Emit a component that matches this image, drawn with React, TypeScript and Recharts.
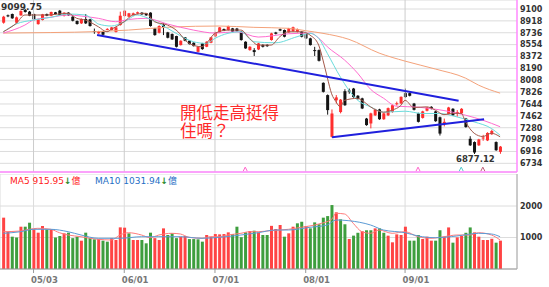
import {
    ComposedChart,
    Bar,
    Line,
    XAxis,
    YAxis,
    CartesianGrid,
    ReferenceLine,
    ReferenceDot,
    Cell
} from 'recharts';

// candles, one per trading day (index 0..115)
const opens = [
    8890, 9003, 9023, 8890, 9003, 9085, 9059, 9023, 8868, 8931,
    9023, 8997, 9049, 9074, 8997, 9044, 8982, 8916, 8880, 8946,
    8942, 8762, 8727, 8752, 8785, 8777, 8747, 8854, 8992, 8982,
    9008, 9030, 9044, 9034, 9044, 8803, 8736, 8860, 8742, 8716,
    8685, 8547, 8665, 8613, 8583, 8444, 8572, 8521, 8583, 8680,
    8742, 8793, 8777, 8803, 8800, 8752, 8598, 8470, 8470, 8480,
    8550, 8550, 8624, 8740, 8790, 8778, 8742, 8760, 8750, 8752,
    8720, 8650, 8470, 8470, 7968, 7780, 7140, 7700, 7520, 7840,
    7850, 7880, 7770, 7730, 7420, 7345, 7470, 7560, 7410, 7470,
    7520, 7645, 7652, 7810, 7810, 7650, 7500, 7430, 7540, 7600,
    7530, 7440, 7350, 7490, 7570, 7500, 7500, 7420, 7110, 7060,
    7010, 7120, 7085, 7180, 7060, 6910
];
const highs = [
    8995, 9015, 9030, 8985, 9080, 9099.75, 9070, 9030, 8950, 9025,
    9030, 9060, 9055, 9085, 9050, 9050, 8990, 8925, 8955, 9023,
    8950, 8800, 8765, 8760, 8805, 8825, 8825, 9059, 9080, 9040,
    9045, 9060, 9050, 9040, 9050, 8810, 8850, 8880, 8750, 8725,
    8690, 8620, 8670, 8620, 8590, 8530, 8580, 8605, 8670, 8750,
    8825, 8800, 8845, 8810, 8810, 8760, 8605, 8530, 8500, 8580,
    8560, 8560, 8735, 8750, 8800, 8785, 8810, 8830, 8800, 8760,
    8730, 8660, 8520, 8480, 7975, 7790, 7560, 7780, 7720, 7870,
    7880, 7890, 7780, 7740, 7430, 7510, 7570, 7570, 7510, 7590,
    7635, 7680, 7760, 7880, 7820, 7660, 7510, 7540, 7600, 7610,
    7540, 7450, 7420, 7600, 7580, 7550, 7580, 7430, 7150, 7070,
    7110, 7170, 7210, 7250, 7070, 7000
];
const lows = [
    8875, 8975, 8950, 8880, 8995, 9045, 8990, 8925, 8860, 8925,
    8990, 8990, 9015, 9000, 8985, 8995, 8910, 8860, 8870, 8870,
    8830, 8720, 8715, 8695, 8775, 8770, 8740, 8845, 8985, 8975,
    9000, 9020, 9010, 8995, 8830, 8690, 8725, 8700, 8650, 8625,
    8510, 8540, 8605, 8555, 8525, 8435, 8475, 8515, 8575, 8670,
    8735, 8760, 8770, 8745, 8750, 8615, 8490, 8460, 8380, 8470,
    8510, 8520, 8615, 8710, 8760, 8665, 8735, 8750, 8740, 8665,
    8640, 8540, 8380, 8295, 7820, 7480, 7130, 7650, 7500, 7615,
    7800, 7740, 7710, 7565, 7310, 7270, 7460, 7400, 7400, 7460,
    7510, 7620, 7640, 7740, 7760, 7545, 7360, 7420, 7530, 7560,
    7370, 7160, 7300, 7480, 7460, 7450, 7490, 7280, 7000, 6877.12,
    7000, 7080, 7075, 7170, 6925, 6880
];
const closes = [
    8982, 8988, 8957, 8972, 9069, 9054, 8997, 8942, 8942, 9018,
    8997, 9054, 9023, 9008, 9044, 9003, 8920, 8870, 8946, 8880,
    8839, 8752, 8752, 8705, 8795, 8818, 8818, 8997, 9074, 9034,
    9034, 9050, 9018, 9003, 8839, 8700, 8839, 8820, 8659, 8634,
    8521, 8613, 8613, 8562, 8531, 8521, 8485, 8598, 8665, 8742,
    8818, 8767, 8839, 8752, 8760, 8624, 8496, 8521, 8440, 8572,
    8521, 8530, 8726, 8720, 8770, 8675, 8803, 8820, 8790, 8675,
    8650, 8547, 8460, 8306, 7830, 7550, 7498, 7745, 7710, 7625,
    7840, 7750, 7720, 7575, 7320, 7500, 7560, 7410, 7500, 7580,
    7625, 7655, 7753, 7750, 7770, 7555, 7370, 7530, 7590, 7570,
    7380, 7190, 7370, 7590, 7470, 7520, 7570, 7290, 7010, 6900,
    7100, 7130, 7200, 7230, 6935, 6990
];

// volume (億) and its colour flag (1 = up day)
const volumes = [
    1630, 1180, 1026, 1000, 1343, 1343, 1470, 1259, 1153, 1365,
    1259, 1259, 1000, 1047, 1132, 1153, 980, 1026, 899, 1153,
    980, 942, 950, 900, 868, 980, 920, 1322, 1312, 1132,
    920, 920, 920, 815, 1153, 980, 920, 1290, 1080, 1132,
    980, 1026, 1047, 950, 950, 942, 868, 1080, 1026, 1110,
    1100, 1110, 1163, 1110, 1343, 1010, 1163, 1205, 1216, 1163,
    1080, 1080, 1370, 1270, 1397, 1026, 1132, 1343, 1450, 1500,
    1365, 1290, 1480, 1420, 1630, 1680, 2030, 1800, 1577, 1420,
    952, 1060, 1150, 1200, 1230, 1230, 1290, 1290, 1150, 1058,
    847, 1100, 1080, 1343, 900, 900, 1080, 952, 1026, 900,
    900, 1230, 1026, 1320, 836, 1005, 1047, 1150, 1320, 1163,
    1026, 920, 920, 960, 836, 900
];
const volUp = [
    1, 1, 0, 0, 1, 0, 0, 1, 1, 1,
    0, 1, 0, 0, 1, 0, 0, 0, 1, 0,
    0, 0, 1, 0, 0, 1, 1, 1, 1, 0,
    1, 1, 0, 0, 0, 1, 1, 1, 0, 0,
    0, 1, 1, 0, 0, 0, 0, 1, 1, 1,
    1, 1, 1, 0, 0, 0, 0, 1, 0, 1,
    0, 0, 1, 1, 1, 0, 1, 1, 0, 0,
    1, 0, 0, 0, 0, 0, 0, 1, 0, 0,
    1, 0, 0, 1, 0, 0, 1, 0, 0, 1,
    1, 1, 1, 1, 0, 0, 0, 1, 1, 1,
    0, 0, 1, 1, 0, 1, 1, 0, 0, 1,
    1, 1, 1, 1, 0, 1
];

// moving averages: [day index, value]
const ma5Pts = [
    [0, 8751], [3, 8880], [5, 9008], [8, 9008], [10, 9008], [15, 9034], [17, 8957], [19, 8931],
    [22, 8828], [24, 8751], [25, 8788], [28, 8905], [30, 9008], [33, 9034], [35, 8905], [38, 8854],
    [40, 8777], [43, 8573], [46, 8521], [47, 8573], [49, 8727], [52, 8777], [55, 8777], [57, 8650],
    [59, 8547], [62, 8547], [64, 8675], [66, 8751], [69, 8751], [71, 8700], [73, 8547], [74, 8317],
    [75, 8050], [76, 7800], [77, 7680], [78, 7600], [79, 7700], [82, 7730], [83, 7700], [85, 7600],
    [88, 7518], [90, 7550], [92, 7620], [93, 7700], [95, 7590], [98, 7600], [100, 7550], [102, 7480],
    [104, 7500], [106, 7500], [107, 7370], [109, 7195], [111, 7145], [113, 7195], [115, 7140]
];
const ma10Pts = [
    [0, 8751], [3, 8870], [7, 8931], [11, 8973], [15, 9023], [19, 9008], [21, 8920], [22, 8870],
    [25, 8839], [28, 8905], [31, 9008], [33, 8973], [36, 8880], [40, 8727], [44, 8598], [47, 8573],
    [49, 8650], [52, 8727], [55, 8751], [58, 8598], [63, 8582], [68, 8675], [71, 8727], [73, 8650],
    [75, 8420], [78, 8060], [80, 7856], [82, 7702], [85, 7600], [88, 7518], [93, 7533], [97, 7498],
    [101, 7498], [105, 7446], [109, 7369], [113, 7268], [115, 7165]
];
const ma20Pts = [
    [0, 8731], [5, 8854], [7, 8931], [11, 8973], [15, 9008], [18, 8992], [22, 8957], [26, 8905],
    [29, 8939], [33, 8957], [38, 8870], [44, 8777], [49, 8731], [54, 8751], [59, 8670], [66, 8720],
    [71, 8731], [73, 8654], [75, 8521], [79, 8317], [82, 8117], [85, 7870], [88, 7733], [91, 7610],
    [96, 7595], [100, 7564], [104, 7518], [107, 7472], [111, 7395], [115, 7295]
];
const ma60Pts = [
    [0, 8731], [11, 8739], [22, 8754], [29, 8777], [39, 8824], [50, 8839], [58, 8819], [66, 8804],
    [70, 8767], [74, 8727], [80, 8635], [87, 8424], [93, 8301], [100, 8180], [107, 8040], [110, 7933],
    [115, 7810]
];
const volMa5Pts = [
    [0, 1184], [4, 1206], [6, 1260], [8, 1292], [11, 1260], [13, 1152], [15, 1079], [18, 1025],
    [20, 975], [22, 943], [25, 921], [27, 1079], [29, 1152], [32, 1079], [34, 994], [36, 1079],
    [39, 1133], [41, 1111], [43, 1006], [46, 975], [48, 1025], [50, 1025], [52, 1079], [55, 1133],
    [57, 1184], [59, 1184], [62, 1220], [66, 1260], [69, 1324], [73, 1429], [76, 1578], [77, 1768],
    [79, 1746], [81, 1451], [83, 1184], [85, 1133], [87, 1238], [90, 1133], [93, 1184], [96, 1025],
    [99, 975], [102, 1025], [105, 1079], [108, 1079], [110, 1152], [113, 1079], [115, 921]
];
const volMa10Pts = [
    [0, 1133], [4, 1184], [7, 1260], [11, 1260], [15, 1184], [18, 1079], [22, 975], [27, 975],
    [32, 1025], [36, 1025], [41, 1025], [46, 975], [50, 1006], [55, 1079], [59, 1152], [63, 1238],
    [66, 1238], [71, 1324], [75, 1397], [77, 1556], [80, 1533], [85, 1397], [88, 1238], [93, 1152],
    [96, 1048], [100, 994], [105, 1048], [110, 1133], [113, 1111], [115, 1025]
];

// hand-drawn trend lines: [day index, price]
const upperTrend = [[21.7, 8701], [105.4, 7694]];
const lowerTrend = [[76.1, 7133], [111.3, 7411]];

// small event markers under the candles
const eventDays = [56, 96, 106, 111];
const eventColors = ['#ff66cc', '#ff66cc', '#55cccc', '#c0607a'];

const priceTicks = [6734, 6916, 7098, 7280, 7462, 7644, 7826, 8008, 8190, 8372, 8554, 8736, 8918, 9100];
const volumeTicks = [1000, 2000];
const monthTicks = [7, 28, 49, 70, 93];
const monthLabels = ['05/03', '06/01', '07/01', '08/01', '09/01'];

const X_DOMAIN = [-0.764, 118.91];
const PRICE_DOMAIN = [6601, 9238];
const VOL_DOMAIN = [0, 3016];
const PINK = '#ff88ff';
const AXIS_FONT = '"DejaVu Sans", Verdana, sans-serif';
const CJK_FONT = '"Noto Sans CJK TC", sans-serif';

const toSeries = (pts: number[][]) => {
    const arr: (number | null)[] = opens.map(() => null);
    pts.forEach(([i, v]) => { arr[i] = v; });
    return arr;
};
const ma5 = toSeries(ma5Pts);
const ma10 = toSeries(ma10Pts);
const ma20 = toSeries(ma20Pts);
const ma60 = toSeries(ma60Pts);
const volMa5 = toSeries(volMa5Pts);
const volMa10 = toSeries(volMa10Pts);

const data = opens.map((o, i) => ({
    i,
    open: o,
    high: highs[i],
    low: lows[i],
    close: closes[i],
    range: [lows[i], highs[i]],
    vol: volumes[i],
    ma5: ma5[i],
    ma10: ma10[i],
    ma20: ma20[i],
    ma60: ma60[i],
    volMa5: volMa5[i],
    volMa10: volMa10[i],
}));

const Candle = (props: any) => {
    const { x, y, width, height, payload } = props;
    if (!payload) return null;
    const { open, close, high, low } = payload;
    const top = Math.min(y, y + height);
    const span = Math.abs(height);
    const py = (v: number) => (high === low ? top : top + ((high - v) / (high - low)) * span);
    const up = close >= open;
    const color = up ? '#ff2e2e' : '#141414';
    const cx = x + width / 2;
    const bodyTop = py(Math.max(open, close));
    const bodyH = Math.max(1, py(Math.min(open, close)) - bodyTop);
    return (
        <g>
            <line x1={cx} x2={cx} y1={top} y2={top + span} stroke={color} strokeWidth={1} />
            <rect x={x} y={bodyTop} width={width} height={bodyH} fill={color} />
        </g>
    );
};

const PriceTick = ({ x, y, payload }: any) => (
    <text x={x} y={y} dy="0.35em" textAnchor="start" fontFamily={AXIS_FONT} fontWeight="bold" fontSize={8} fill="#333">
        {payload.value}
    </text>
);

const MonthTick = ({ x, y, payload }: any) => {
    const idx = monthTicks.indexOf(payload.value);
    return (
        <text x={x - 2.5} y={y} dy={8} textAnchor="start" fontFamily={AXIS_FONT} fontWeight="bold" fontSize={8.5} fill="#777">
            {monthLabels[idx]}
        </text>
    );
};

const EventMark = ({ cx, cy, fill }: any) => (
    <path d={`M${cx - 2},${cy + 2} L${cx},${cy - 2} L${cx + 2},${cy + 2}`} stroke={fill} fill="none" strokeWidth={1} />
);

const lineProps = {
    type: 'monotone' as const,
    strokeWidth: 1,
    dot: false,
    activeDot: false,
    connectNulls: true,
    isAnimationActive: false,
};

export default function App() {
    return (
        <div style={{ position: 'absolute', left: 0, top: 0, width: 549, height: 287, background: '#fff' }}>
            <div style={{ position: 'absolute', left: 0, top: 0 }}>
                <ComposedChart width={549} height={174} data={data} margin={{ top: 0, right: 0, left: 0, bottom: 0 }}>
                    <CartesianGrid vertical={false} stroke="#dcdcdc" />
                    <XAxis
                        dataKey="i"
                        type="number"
                        domain={X_DOMAIN}
                        allowDataOverflow
                        height={2}
                        tick={false}
                        tickLine={false}
                        axisLine={{ stroke: PINK, strokeWidth: 1.5 }}
                    />
                    <YAxis
                        orientation="right"
                        width={32}
                        domain={PRICE_DOMAIN}
                        allowDataOverflow
                        ticks={priceTicks}
                        interval={0}
                        tickSize={0}
                        tickMargin={3}
                        tickLine={false}
                        axisLine={{ stroke: PINK, strokeWidth: 1.5 }}
                        tick={<PriceTick />}
                    />
                    {monthTicks.map((m) => (
                        <ReferenceLine key={`m-${m}`} x={m} stroke="#cccccc" />
                    ))}
                    <Line dataKey="ma60" stroke="#f4a27a" {...lineProps} />
                    <Line dataKey="ma20" stroke="#ff6ccf" {...lineProps} />
                    <Line dataKey="ma10" stroke="#6adcdc" {...lineProps} />
                    <Line dataKey="ma5" stroke="#a4584a" {...lineProps} />
                    <Bar dataKey="range" barSize={3} shape={(p: any) => <Candle {...p} />} activeBar={false} isAnimationActive={false} />
                    <ReferenceLine
                        segment={upperTrend.map(([x, y]) => ({ x, y }))}
                        stroke="#2020dd"
                        strokeWidth={2}
                    />
                    <ReferenceLine
                        segment={lowerTrend.map(([x, y]) => ({ x, y }))}
                        stroke="#2020dd"
                        strokeWidth={2}
                    />
                    {eventDays.map((d, k) => (
                        <ReferenceDot key={`e-${d}`} x={d} y={6645} r={2} fill={eventColors[k]} shape={(p: any) => <EventMark {...p} fill={eventColors[k]} />} />
                    ))}
                </ComposedChart>
            </div>
            <div style={{ position: 'absolute', left: 0, top: 174 }}>
                <ComposedChart width={549} height={113} data={data} margin={{ top: 0, right: 0, left: 0, bottom: 0 }}>
                    <CartesianGrid stroke="#dcdcdc" />
                    <XAxis
                        dataKey="i"
                        type="number"
                        domain={X_DOMAIN}
                        allowDataOverflow
                        ticks={monthTicks}
                        interval={0}
                        height={18}
                        tickSize={4}
                        tickMargin={2}
                        tickLine={{ stroke: '#999' }}
                        axisLine={{ stroke: '#999' }}
                        tick={<MonthTick />}
                    />
                    <YAxis
                        orientation="right"
                        width={32}
                        domain={VOL_DOMAIN}
                        allowDataOverflow
                        ticks={volumeTicks}
                        interval={0}
                        tickSize={0}
                        tickMargin={3}
                        tickLine={false}
                        axisLine={{ stroke: '#aaa' }}
                        tick={<PriceTick />}
                    />
                    <Bar dataKey="vol" barSize={3} activeBar={false} isAnimationActive={false}>
                        {data.map((d) => (
                            <Cell key={`v-${d.i}`} fill={volUp[d.i] ? '#ff4444' : '#3e9e3e'} />
                        ))}
                    </Bar>
                    <Line dataKey="volMa5" stroke="#ff7a7a" {...lineProps} />
                    <Line dataKey="volMa10" stroke="#5b9bd5" {...lineProps} />
                </ComposedChart>
            </div>
            <svg width={549} height={287} style={{ position: 'absolute', left: 0, top: 0, pointerEvents: 'none' }}>
                <text x={1} y={9.5} fontFamily={AXIS_FONT} fontWeight="bold" fontSize={9} fill="#333">9099.75</text>
                <text x={456} y={162} fontFamily={AXIS_FONT} fontWeight="bold" fontSize={8.5} fill="#333">6877.12</text>
                <text x={180} y={118.5} fontFamily={CJK_FONT} fontSize={16.5} fill="#ff2a2a">
                    <tspan x={180}>開低走高挺得</tspan>
                    <tspan x={180} dy={18}>住嗎？</tspan>
                </text>
                <text x={10} y={183.5} fontFamily={AXIS_FONT} fontSize={9}>
                    <tspan fill="#ff2020">MA5 915.95</tspan>
                    <tspan fill="#2e8b2e" fontWeight="bold">↓</tspan>
                    <tspan fill="#ff2020" fontFamily={CJK_FONT}>億</tspan>
                </text>
                <text x={95} y={183.5} fontFamily={AXIS_FONT} fontSize={9}>
                    <tspan fill="#1f6fc5">MA10 1031.94</tspan>
                    <tspan fill="#2e8b2e" fontWeight="bold">↓</tspan>
                    <tspan fill="#1f6fc5" fontFamily={CJK_FONT}>億</tspan>
                </text>
            </svg>
        </div>
    );
}
